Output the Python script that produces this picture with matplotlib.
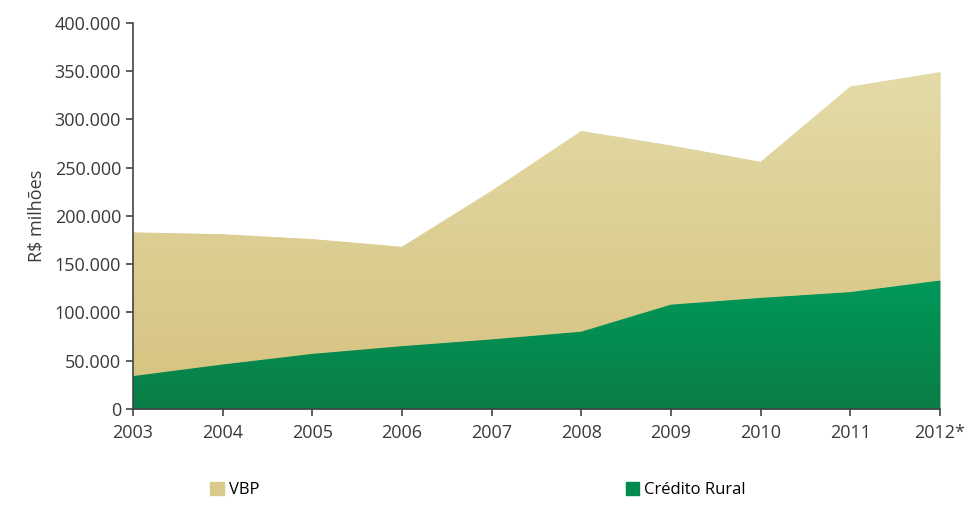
import numpy as np
import matplotlib.pyplot as plt
from matplotlib.colors import LinearSegmentedColormap
from matplotlib.patches import Patch

anos = ['2003', '2004', '2005', '2006', '2007', '2008', '2009', '2010', '2011', '2012*']
vbp = [183000, 181000, 176000, 168000, 226000, 288000, 273000, 256000, 334000, 349000]
credito_rural = [34000, 46000, 57000, 65000, 72000, 80000, 108000, 115000, 121000, 133000]

plt.rcParams['font.family'] = ['Open Sans', 'DejaVu Sans']

fig = plt.figure(figsize=(9.77, 5.08), dpi=100)
ax = fig.add_axes([0.136, 0.195, 0.826, 0.76])

x = np.arange(len(anos))


def gradient_fill(ax, x, y, c_top, c_bottom, zorder):
    poly = ax.fill_between(x, 0, y, color=c_bottom, lw=0, zorder=zorder)
    cmap = LinearSegmentedColormap.from_list('g', [c_bottom, c_top])
    grad = np.linspace(0, 1, 256).reshape(-1, 1)
    im = ax.imshow(grad, cmap=cmap, aspect='auto', origin='lower',
                   extent=[x[0], x[-1], 0, max(y)], zorder=zorder + 0.1)
    im.set_clip_path(poly.get_paths()[0], transform=ax.transData)
    return poly


gradient_fill(ax, x, vbp, '#e4dba8', '#d5c27e', 1)
gradient_fill(ax, x, credito_rural, '#00995a', '#0a7d45', 2)

ax.set_xlim(x[0], x[-1])
ax.set_ylim(0, 400000)
ax.set_xticks(x)
ax.set_xticklabels(anos)
ax.set_yticks(np.arange(0, 400001, 50000))
ax.set_yticklabels(['0'] + [f'{v // 1000}.000' for v in range(50000, 400001, 50000)])

for s in ['top', 'right']:
    ax.spines[s].set_visible(False)
for s in ['left', 'bottom']:
    ax.spines[s].set_color('#444444')
    ax.spines[s].set_linewidth(1.2)
    ax.spines[s].set_zorder(5)
ax.tick_params(colors='#444444', labelcolor='#3a3a3a', labelsize=13, length=5, width=1.2)
ax.tick_params(axis='x', pad=6)
ax.set_ylabel('R$ milhões', fontsize=13, color='#3a3a3a', labelpad=6)

fig.legend(handles=[Patch(color='#d9ca8c', label='VBP')], loc='center left',
           bbox_to_anchor=(0.2, 0.035), frameon=False, fontsize=12,
           handlelength=0.8, handleheight=0.8, handletextpad=0.3)
fig.legend(handles=[Patch(color='#008a4e', label='Crédito Rural')], loc='center left',
           bbox_to_anchor=(0.625, 0.035), frameon=False, fontsize=12,
           handlelength=0.8, handleheight=0.8, handletextpad=0.3)

fig.savefig('out.png', dpi=100)
